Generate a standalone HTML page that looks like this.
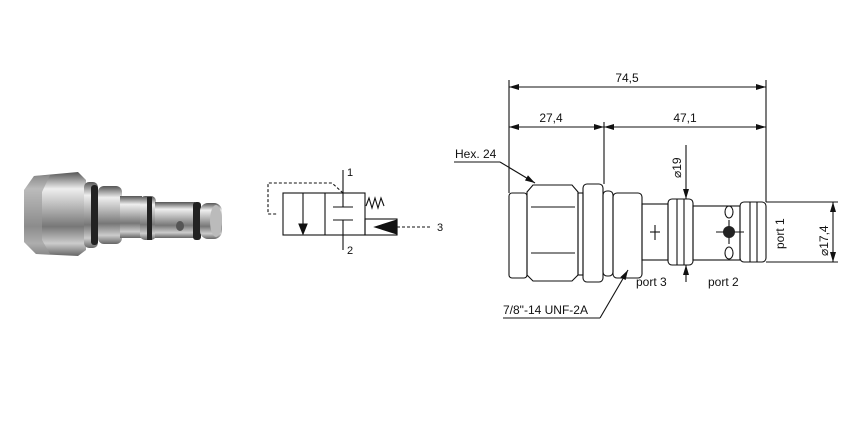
<!DOCTYPE html>
<html><head><meta charset="utf-8"><style>
body{margin:0;background:#fff;width:850px;height:425px;overflow:hidden}
text{font-family:"Liberation Sans",sans-serif;fill:#111}
</style></head><body>
<svg width="850" height="425" viewBox="0 0 850 425" xmlns="http://www.w3.org/2000/svg">
<defs>
<linearGradient id="m" x1="0" y1="0" x2="0" y2="1">
<stop offset="0" stop-color="#555"/><stop offset="0.2" stop-color="#eee"/><stop offset="0.4" stop-color="#bbb"/><stop offset="0.65" stop-color="#777"/><stop offset="0.85" stop-color="#ccc"/><stop offset="1" stop-color="#666"/></linearGradient>
<marker id="a" viewBox="0 0 10 6" refX="10" refY="3" markerWidth="10" markerHeight="6" orient="auto-start-reverse" markerUnits="userSpaceOnUse"><path d="M0,0L10,3L0,6z" fill="#111"/></marker>
</defs>
<!-- photo -->
<g>
<path d="M24,190 L34,176 L78,172 L86,180 L86,250 L78,256 L36,254 L24,242 Z" fill="url(#m)"/>
<path d="M24,190 L34,176 L50,175 L42,192 L42,240 L50,254 L36,254 L24,242 Z" fill="#9a9a9a" opacity="0.6"/>
<rect x="84" y="182" width="14" height="66" rx="5" fill="url(#m)"/>
<rect x="91" y="185" width="7" height="60" rx="3" fill="#222"/>
<rect x="98" y="186" width="24" height="58" rx="6" fill="url(#m)"/>
<rect x="120" y="196" width="22" height="42" fill="url(#m)"/>
<rect x="140" y="196" width="16" height="44" rx="5" fill="url(#m)"/>
<rect x="147" y="197" width="5" height="43" fill="#222"/>
<rect x="155" y="202" width="40" height="36" fill="url(#m)"/>
<ellipse cx="180" cy="226" rx="4" ry="5" fill="#555"/>
<rect x="193" y="202" width="8" height="38" rx="3" fill="#222"/>
<rect x="200" y="203" width="22" height="36" rx="8" fill="url(#m)"/>
<ellipse cx="216" cy="221" rx="6" ry="16" fill="#bbb"/>
</g>
<!-- symbol -->
<g stroke="#111" stroke-width="1.1" fill="none">
<rect x="283" y="193" width="82" height="42"/>
<line x1="325" y1="193" x2="325" y2="235"/>
<rect x="365" y="219" width="32" height="16"/>
<path d="M375,227 L397,220 L397,234z" fill="#111"/>
<line x1="397" y1="227" x2="432" y2="227" stroke-dasharray="3,2"/>
<line x1="343" y1="170" x2="343" y2="207"/>
<line x1="333" y1="207" x2="353" y2="207"/>
<line x1="333" y1="220" x2="353" y2="220"/>
<line x1="343" y1="220" x2="343" y2="250"/>
<line x1="303" y1="193" x2="303" y2="233"/>
<path d="M299,224 L303,234 L307,224z" fill="#111"/>
<path d="M343,193 L332,183 L268,183 L268,214 L277,214" stroke-dasharray="3,2"/>
<path d="M366,206 L369,198 L372,208 L375,198 L378,208 L381,198 L384,206"/>
</g>
<text x="347" y="176" font-size="11">1</text>
<text x="347" y="254" font-size="11">2</text>
<text x="437" y="231" font-size="11">3</text>
<!-- dimension drawing -->
<g stroke="#111" stroke-width="1.1" fill="none">
<line x1="509" y1="80" x2="509" y2="193"/>
<line x1="604" y1="122" x2="604" y2="184"/>
<line x1="766" y1="80" x2="766" y2="202"/>
<line x1="509" y1="87" x2="766" y2="87" marker-start="url(#a)" marker-end="url(#a)"/>
<line x1="509" y1="127" x2="604" y2="127" marker-start="url(#a)" marker-end="url(#a)"/>
<line x1="604" y1="127" x2="766" y2="127" marker-start="url(#a)" marker-end="url(#a)"/>
<rect x="509" y="193" width="18" height="85" rx="3"/>
<path d="M533,185 L572,185 L578,192 L578,275 L572,281 L533,281 L527,275 L527,192 Z"/>
<line x1="531" y1="207" x2="575" y2="207"/><line x1="531" y1="253" x2="575" y2="253"/>
<rect x="578" y="193" width="5" height="82"/>
<rect x="583" y="184" width="20" height="98" rx="4"/>
<rect x="603" y="191" width="10" height="85" rx="4"/>
<rect x="613" y="193" width="29" height="85" rx="4"/>
<rect x="642" y="204" width="26" height="56"/>
<rect x="668" y="199" width="25" height="66" rx="4"/>
<line x1="677" y1="199" x2="677" y2="265"/><line x1="684" y1="199" x2="684" y2="265"/>
<rect x="693" y="206" width="47" height="54"/>
<rect x="740" y="202" width="26" height="60" rx="4"/>
<line x1="750" y1="202" x2="750" y2="262"/><line x1="757" y1="202" x2="757" y2="262"/>
<line x1="766" y1="202" x2="838" y2="202"/><line x1="766" y1="262" x2="838" y2="262"/>
<line x1="833" y1="202" x2="833" y2="262" marker-start="url(#a)" marker-end="url(#a)"/>
<line x1="655" y1="225" x2="655" y2="240"/><line x1="650" y1="232" x2="660" y2="232"/>
<ellipse cx="729" cy="212" rx="4" ry="6"/><ellipse cx="729" cy="253" rx="4" ry="6"/>
<line x1="716" y1="232" x2="744" y2="232"/><line x1="729" y1="220" x2="729" y2="244"/>
<line x1="686" y1="145" x2="686" y2="199" marker-end="url(#a)"/>
<line x1="686" y1="282" x2="686" y2="265" marker-end="url(#a)"/>
<line x1="454" y1="162" x2="500" y2="162"/><line x1="500" y1="162" x2="535" y2="183" marker-end="url(#a)"/>
<line x1="503" y1="318" x2="600" y2="318"/><line x1="600" y1="318" x2="628" y2="270" marker-end="url(#a)"/>
</g>
<circle cx="729" cy="232" r="6" fill="#222"/>
<text x="627" y="82" font-size="12" text-anchor="middle">74,5</text>
<text x="551" y="122" font-size="12" text-anchor="middle">27,4</text>
<text x="685" y="122" font-size="12" text-anchor="middle">47,1</text>
<text x="455" y="158" font-size="12">Hex. 24</text>
<text x="503" y="314" font-size="12">7/8"-14 UNF-2A</text>
<text x="636" y="286" font-size="12">port 3</text>
<text x="708" y="286" font-size="12">port 2</text>
<text transform="translate(784,249) rotate(-90)" font-size="12">port 1</text>
<text transform="translate(681,178) rotate(-90)" font-size="12">⌀19</text>
<text transform="translate(828,256) rotate(-90)" font-size="12">⌀17,4</text>
</svg>
</body></html>
